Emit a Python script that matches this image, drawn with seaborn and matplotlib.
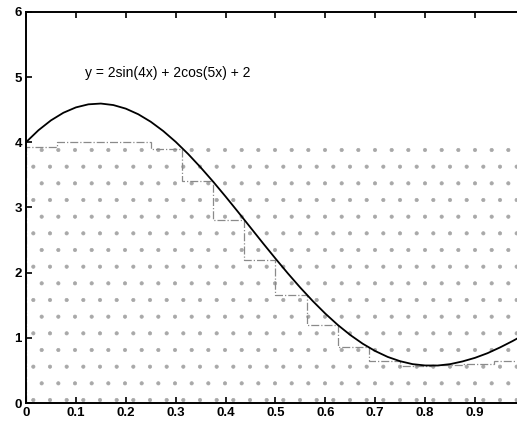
import numpy as np
import pandas as pd
import matplotlib
matplotlib.use("Agg")
import matplotlib.pyplot as plt
import seaborn as sns

# curve y = 2sin(4x) + 2cos(5x) + 2
x_curve = [0.0, 0.025, 0.05, 0.075, 0.1, 0.125, 0.15, 0.175, 0.2, 0.225,
           0.25, 0.275, 0.3, 0.325, 0.35, 0.375, 0.4, 0.425, 0.45, 0.475,
           0.5, 0.525, 0.55, 0.575, 0.6, 0.625, 0.65, 0.675, 0.7, 0.725,
           0.75, 0.775, 0.8, 0.825, 0.85, 0.875, 0.9, 0.925, 0.95, 0.975, 1.0]
y_curve = [4.000, 4.184, 4.335, 4.452, 4.534, 4.581, 4.593, 4.570, 4.515, 4.429,
           4.314, 4.172, 4.006, 3.819, 3.614, 3.396, 3.167, 2.931, 2.691, 2.451,
           2.216, 1.987, 1.768, 1.562, 1.371, 1.197, 1.043, 0.909, 0.797, 0.707,
           0.641, 0.596, 0.576, 0.575, 0.596, 0.638, 0.693, 0.764, 0.852, 0.949, 1.054]

# dash-dot staircase
step_edges = [0, 0.0625, 0.125, 0.1875, 0.25, 0.3125, 0.375, 0.4375, 0.5,
              0.5625, 0.625, 0.6875, 0.75, 0.8125, 0.875, 0.9375, 1.0]
step_heights = [3.93, 4.0, 4.0, 4.0, 3.9, 3.4, 2.8, 2.2, 1.65,
                1.2, 0.86, 0.64, 0.57, 0.58, 0.6, 0.64]

# shaded (halftone) band
band_x = [0.0, 1.0]
band_top = [3.95, 3.95]

xticks = [0, 0.1, 0.2, 0.3, 0.4, 0.5, 0.6, 0.7, 0.8, 0.9]
xticklabels = ["0", "0.1", "0.2", "0.3", "0.4", "0.5", "0.6", "0.7", "0.8", "0.9"]
yticks = [0, 1, 2, 3, 4, 5, 6]

sns.set_style("white")
plt.rcParams["font.family"] = ["Liberation Sans", "DejaVu Sans"]
plt.rcParams["hatch.linewidth"] = 0.5

fig = plt.figure(figsize=(5.17, 4.22), dpi=100)
ax = fig.add_axes([0.0503, 0.045, 0.965, 0.927])

ax.fill_between(band_x, 0, band_top, facecolor="none", edgecolor="#a8a8a8",
                hatch=".", linewidth=0)

df = pd.DataFrame({"x": x_curve, "y": y_curve})
sns.lineplot(data=df, x="x", y="y", ax=ax, color="black", linewidth=1.3)

ax.stairs(step_heights, step_edges, color="#8a8a8a", linestyle="-.", linewidth=0.9)

ax.text(0.118, 5.0, "y = 2sin(4x) + 2cos(5x) + 2", fontsize=10, color="black")

ax.set_xlim(0, 1)
ax.set_ylim(0, 6)
ax.set_xticks(xticks)
ax.set_xticklabels(xticklabels, fontweight="bold")
ax.set_yticks(yticks)
ax.set_yticklabels([str(v) for v in yticks], fontweight="bold")
ax.set_xlabel("")
ax.set_ylabel("")
ax.tick_params(direction="in", length=4, width=1.2, labelsize=9.5, pad=3,
               top=True, bottom=True, left=True, right=False, colors="black")
for s in ["left", "bottom", "top"]:
    ax.spines[s].set_color("black")
    ax.spines[s].set_linewidth(1.4)
ax.spines["right"].set_visible(False)

fig.savefig("out.png", dpi=100)
